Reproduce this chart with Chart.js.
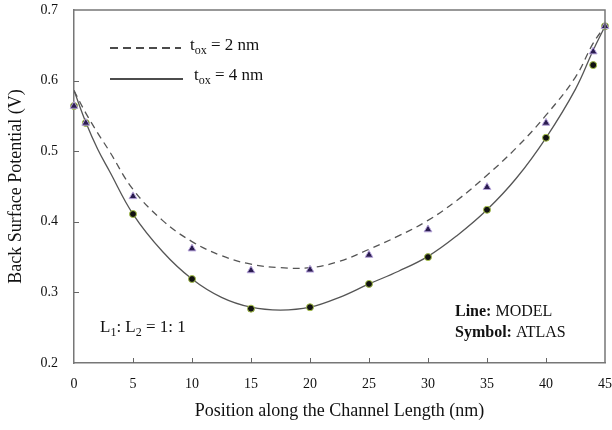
<!DOCTYPE html>
<html>
<head>
<meta charset="utf-8">
<script src="https://cdn.jsdelivr.net/npm/chart.js@4/dist/chart.umd.min.js"></script>
<style>
    body { margin: 0; background: #fff; }
    #wrap { width: 612px; height: 430px; }
</style>
</head>
<body>
<div id="wrap"><canvas id="potChart" width="612" height="430"></canvas></div>
<script>
// ATLAS symbols
var atlasX = [0, 1, 5, 10, 15, 20, 25, 30, 35, 40, 44, 45];
var atlas2nm = [0.564, 0.540, 0.436, 0.362, 0.331, 0.332, 0.353, 0.389, 0.449, 0.540, 0.641, 0.677];
var atlas4nm = [0.564, 0.540, 0.411, 0.319, 0.277, 0.279, 0.312, 0.350, 0.417, 0.519, 0.622, 0.677];

// model lines
var modelX = [0, 1, 2, 3, 5, 7.5, 10, 12.5, 15, 17.5, 20, 22.5, 25, 27.5, 30, 32.5, 35, 37.5, 40, 42.5, 44, 45];
var model2nm = [0.586, 0.554, 0.526, 0.500, 0.446, 0.402, 0.372, 0.352, 0.340, 0.335, 0.335, 0.344, 0.361, 0.380, 0.402, 0.431, 0.466, 0.505, 0.551, 0.605, 0.653, 0.677];
var model4nm = [0.586, 0.541, 0.503, 0.472, 0.411, 0.358, 0.319, 0.293, 0.279, 0.275, 0.279, 0.293, 0.312, 0.330, 0.351, 0.381, 0.417, 0.462, 0.519, 0.588, 0.643, 0.677];

var xTicks = [0, 5, 10, 15, 20, 25, 30, 35, 40, 45];
var yTicks = [0.2, 0.3, 0.4, 0.5, 0.6, 0.7];

function pts(xs, ys) {
    return xs.map(function (x, i) { return { x: x, y: ys[i] }; });
}

var serif = '"Liberation Serif", "DejaVu Serif", serif';

// frame, inward ticks and the texts inside the plot
var decorPlugin = {
    id: 'decor',
    afterDraw: function (chart) {
        var ctx = chart.ctx;
        var a = chart.chartArea;
        var xs = chart.scales.x, ys = chart.scales.y;
        ctx.save();
        ctx.strokeStyle = '#777';
        ctx.lineWidth = 1.5;
        ctx.beginPath();
        ctx.moveTo(a.left, a.top); ctx.lineTo(a.right, a.top); ctx.lineTo(a.right, a.bottom);
        ctx.stroke();

        ctx.lineWidth = 1;
        ctx.strokeStyle = '#666';
        ctx.beginPath();
        xTicks.slice(1, -1).forEach(function (v) {
            var px = Math.round(xs.getPixelForValue(v)) + 0.5;
            ctx.moveTo(px, a.bottom); ctx.lineTo(px, a.bottom - 5);
        });
        yTicks.slice(1, -1).forEach(function (v) {
            var py = Math.round(ys.getPixelForValue(v)) + 0.5;
            ctx.moveTo(a.left, py); ctx.lineTo(a.left + 5, py);
        });
        ctx.stroke();

        // legend samples
        ctx.strokeStyle = '#111';
        ctx.lineWidth = 1.3;
        ctx.setLineDash([8, 5]);
        ctx.beginPath(); ctx.moveTo(110, 48); ctx.lineTo(181, 48); ctx.stroke();
        ctx.setLineDash([]);
        ctx.beginPath(); ctx.moveTo(110, 79); ctx.lineTo(183, 79); ctx.stroke();

        ctx.fillStyle = '#111';
        ctx.textBaseline = 'alphabetic';
        function subText(x, y, base, sub, rest) {
            ctx.font = '17px ' + serif;
            ctx.fillText(base, x, y);
            x += ctx.measureText(base).width;
            ctx.font = '12px ' + serif;
            ctx.fillText(sub, x, y + 4);
            x += ctx.measureText(sub).width;
            ctx.font = '17px ' + serif;
            ctx.fillText(rest, x, y);
            return x + ctx.measureText(rest).width;
        }
        subText(190, 50, 't', 'ox', ' = 2 nm');
        subText(194, 80, 't', 'ox', ' = 4 nm');

        var x = subText(100, 332, 'L', '1', ': ');
        x = subText(x, 332, 'L', '2', ' = 1: 1');

        ctx.font = 'bold 16px ' + serif;
        ctx.fillText('Line:', 455, 316);
        var w = ctx.measureText('Line: ').width;
        ctx.font = '16px ' + serif;
        ctx.fillText('MODEL', 455 + w, 316);
        ctx.font = 'bold 16px ' + serif;
        ctx.fillText('Symbol:', 455, 337);
        w = ctx.measureText('Symbol: ').width;
        ctx.font = '16px ' + serif;
        ctx.fillText('ATLAS', 455 + w, 337);
        ctx.restore();
    }
};

document.addEventListener('DOMContentLoaded', function () {
    var el = document.getElementById('potChart');

    var chart = new Chart(el, {
        type: 'scatter',
        data: {
            datasets: [{
                label: 'ATLAS tox = 2 nm',
                data: pts(atlasX, atlas2nm),
                pointStyle: 'triangle',
                pointRadius: 4.5,
                backgroundColor: '#2a1c50',
                borderColor: '#b8a5dc',
                borderWidth: 1,
                clip: false
            }, {
                label: 'ATLAS tox = 4 nm',
                data: pts(atlasX, atlas4nm),
                pointStyle: 'circle',
                pointRadius: 3.5,
                backgroundColor: '#111',
                borderColor: '#a9c44c',
                borderWidth: 1,
                clip: false
            }, {
                label: 'MODEL tox = 2 nm',
                data: pts(modelX, model2nm),
                showLine: true,
                pointRadius: 0,
                borderColor: '#555',
                borderWidth: 1.3,
                borderDash: [7, 5],
                tension: 0.4
            }, {
                label: 'MODEL tox = 4 nm',
                data: pts(modelX, model4nm),
                showLine: true,
                pointRadius: 0,
                borderColor: '#555',
                borderWidth: 1.3,
                tension: 0.4
            }]
        },
        options: {
            responsive: false,
            animation: false,
            layout: { padding: { top: 10, right: 7, left: 0, bottom: 0 } },
            plugins: {
                legend: { display: false },
                tooltip: { enabled: false }
            },
            scales: {
                x: {
                    type: 'linear',
                    min: 0, max: 45,
                    afterBuildTicks: function (s) { s.ticks = xTicks.map(function (v) { return { value: v }; }); },
                    afterFit: function (s) { s.height = 67; s.paddingLeft = 0; s.paddingRight = 0; },
                    grid: { display: false, drawTicks: false },
                    border: { display: true, color: '#777', width: 1.5 },
                    ticks: { padding: 13, color: '#111', font: { family: serif, size: 14 } },
                    title: {
                        display: true,
                        text: 'Position along the Channel Length (nm)',
                        color: '#111',
                        font: { family: serif, size: 18 },
                        padding: { top: 0, bottom: 8 }
                    }
                },
                y: {
                    min: 0.2, max: 0.7,
                    afterBuildTicks: function (s) { s.ticks = yTicks.map(function (v) { return { value: v }; }); },
                    afterFit: function (s) { s.width = 74; s.paddingTop = 0; s.paddingBottom = 0; },
                    grid: { display: false, drawTicks: false },
                    border: { display: true, color: '#777', width: 1.5 },
                    ticks: {
                        padding: 16,
                        color: '#111',
                        font: { family: serif, size: 14 },
                        callback: function (v) { return v.toFixed(1); }
                    },
                    title: {
                        display: true,
                        text: 'Back Surface Potential (V)',
                        color: '#111',
                        font: { family: serif, size: 18 },
                        padding: { top: 5, bottom: 4 }
                    }
                }
            }
        },
        plugins: [decorPlugin]
    });
});
</script>
</body>
</html>
